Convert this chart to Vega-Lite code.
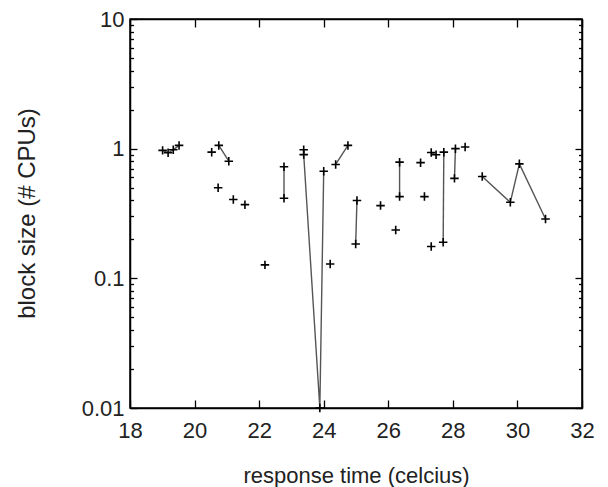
{
  "$schema": "https://vega.github.io/schema/vega-lite/v6.json",
  "width": 452,
  "height": 389,
  "autosize": {"type": "none"},
  "padding": {"left": 130, "top": 19, "right": 26, "bottom": 79},
  "background": "white",
  "config": {
    "view": {"stroke": "black", "strokeWidth": 1.5},
    "font": "Liberation Sans",
    "axis": {"labelFont": "Liberation Sans", "titleFont": "Liberation Sans", "labelColor": "#222", "titleColor": "#222", "titleFontWeight": "normal", "domainColor": "black", "tickColor": "black", "grid": false}
  },
  "data": {
    "values": [
      {"t": 19.01, "b": 0.97, "g": "A", "o": 1},
      {"t": 19.18, "b": 0.93, "g": "A", "o": 2},
      {"t": 19.34, "b": 0.98, "g": "A", "o": 3},
      {"t": 19.52, "b": 1.06, "g": "A", "o": 4},
      {"t": 20.53, "b": 0.94, "g": "s1", "o": 1},
      {"t": 20.75, "b": 1.06, "g": "B", "o": 1},
      {"t": 21.06, "b": 0.80, "g": "B", "o": 2},
      {"t": 20.73, "b": 0.50, "g": "s2", "o": 1},
      {"t": 21.2, "b": 0.405, "g": "s3", "o": 1},
      {"t": 21.56, "b": 0.37, "g": "s4", "o": 1},
      {"t": 22.18, "b": 0.127, "g": "s5", "o": 1},
      {"t": 22.77, "b": 0.725, "g": "C", "o": 1},
      {"t": 22.77, "b": 0.415, "g": "C", "o": 2},
      {"t": 23.38, "b": 0.98, "g": "D", "o": 1},
      {"t": 23.38, "b": 0.90, "g": "D", "o": 2},
      {"t": 23.88, "b": 0.01, "g": "D", "o": 3},
      {"t": 24.0, "b": 0.67, "g": "D", "o": 4},
      {"t": 24.2, "b": 0.129, "g": "s6", "o": 1},
      {"t": 24.37, "b": 0.755, "g": "E", "o": 1},
      {"t": 24.75, "b": 1.06, "g": "E", "o": 2},
      {"t": 24.99, "b": 0.184, "g": "F", "o": 1},
      {"t": 25.03, "b": 0.398, "g": "F", "o": 2},
      {"t": 25.76, "b": 0.364, "g": "s7", "o": 1},
      {"t": 26.23, "b": 0.236, "g": "s8", "o": 1},
      {"t": 26.35, "b": 0.787, "g": "G", "o": 1},
      {"t": 26.35, "b": 0.427, "g": "G", "o": 2},
      {"t": 27.0, "b": 0.78, "g": "s9", "o": 1},
      {"t": 27.12, "b": 0.427, "g": "s10", "o": 1},
      {"t": 27.33, "b": 0.935, "g": "H", "o": 1},
      {"t": 27.48, "b": 0.897, "g": "H", "o": 2},
      {"t": 27.33, "b": 0.176, "g": "s11", "o": 1},
      {"t": 27.72, "b": 0.94, "g": "I", "o": 1},
      {"t": 27.70, "b": 0.19, "g": "I", "o": 2},
      {"t": 28.05, "b": 0.59, "g": "J", "o": 1},
      {"t": 28.08, "b": 1.0, "g": "J", "o": 2},
      {"t": 28.38, "b": 1.03, "g": "s12", "o": 1},
      {"t": 28.91, "b": 0.61, "g": "K", "o": 1},
      {"t": 29.78, "b": 0.386, "g": "K", "o": 2},
      {"t": 30.06, "b": 0.764, "g": "K", "o": 3},
      {"t": 30.87, "b": 0.287, "g": "K", "o": 4}
    ]
  },
  "layer": [
    {
      "mark": {"type": "line", "color": "#555", "strokeWidth": 1.4, "clip": false},
      "encoding": {
        "x": {"field": "t", "type": "quantitative",
          "scale": {"domain": [18, 32], "nice": false, "zero": false},
          "axis": {"orient": "bottom", "title": "response time (celcius)", "values": [18, 20, 22, 24, 26, 28, 30, 32],
            "tickSize": -8, "tickWidth": 1.3, "domainWidth": 1.5, "labelFontSize": 22, "labelPadding": 20, "labelFlush": false,
            "titleFontSize": 22, "titleX": 226, "titleY": 67, "titleBaseline": "middle", "titleAnchor": "middle"}},
        "y": {"field": "b", "type": "quantitative",
          "scale": {"type": "log", "domain": [0.01, 10], "nice": false},
          "axis": {"orient": "left", "title": "block size (# CPUs)",
            "values": [0.01, 0.02, 0.03, 0.04, 0.05, 0.06, 0.07, 0.08, 0.09, 0.1, 0.2, 0.3, 0.4, 0.5, 0.6, 0.7, 0.8, 0.9, 1, 2, 3, 4, 5, 6, 7, 8, 9, 10],
            "format": "~g",
            "labelExpr": "indexof([0.01, 0.1, 1, 10], datum.value) >= 0 ? datum.label : ''",
            "tickSize": {"condition": {"test": "indexof([0.01, 0.1, 1, 10], datum.value) >= 0", "value": -7}, "value": -3.5},
            "tickWidth": 1.3, "domainWidth": 1.5, "labelFontSize": 22, "labelPadding": 13, "labelFlush": false,
            "titleFontSize": 24, "titleX": -103, "titleY": 194, "titleBaseline": "middle", "titleAnchor": "middle", "titleAngle": 270}},
        "detail": {"field": "g"},
        "order": {"field": "o"}
      }
    },
    {
      "mark": {"type": "point", "shape": "M-1,0H1M0,-1V1", "filled": false, "stroke": "black", "strokeWidth": 1.6, "size": 72, "opacity": 1, "clip": false},
      "encoding": {
        "x": {"field": "t", "type": "quantitative",
          "axis": {"orient": "top", "title": null, "labels": false, "values": [18, 20, 22, 24, 26, 28, 30, 32], "tickSize": -8, "tickWidth": 1.3, "domainWidth": 1.5}},
        "y": {"field": "b", "type": "quantitative",
          "axis": {"orient": "right", "title": null, "labels": false,
            "values": [0.01, 0.02, 0.03, 0.04, 0.05, 0.06, 0.07, 0.08, 0.09, 0.1, 0.2, 0.3, 0.4, 0.5, 0.6, 0.7, 0.8, 0.9, 1, 2, 3, 4, 5, 6, 7, 8, 9, 10],
            "tickSize": {"condition": {"test": "indexof([0.01, 0.1, 1, 10], datum.value) >= 0", "value": -7}, "value": -3.5},
            "tickWidth": 1.3, "domainWidth": 1.5}}
      }
    }
  ],
  "resolve": {"axis": {"x": "independent", "y": "independent"}}
}
